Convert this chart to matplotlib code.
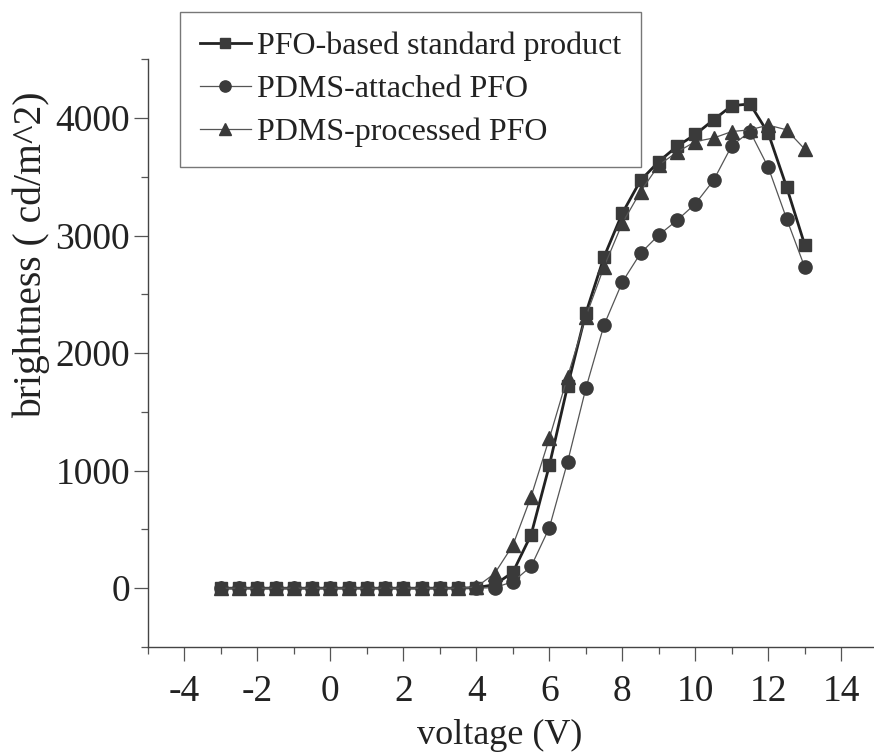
import matplotlib
matplotlib.use('Agg')
import matplotlib.pyplot as plt
import numpy as np

plt.rcParams['font.family'] = ['Liberation Serif', 'DejaVu Serif']
plt.rcParams['axes.unicode_minus'] = False

# voltage steps, -3 V to 13 V every 0.5 V
voltage = [-3, -2.5, -2, -1.5, -1, -0.5, 0, 0.5, 1, 1.5, 2, 2.5, 3, 3.5, 4, 4.5,
           5, 5.5, 6, 6.5, 7, 7.5, 8, 8.5, 9, 9.5, 10, 10.5, 11, 11.5, 12, 12.5, 13]

standard = [0, 0, 0, 0, 0, 0, 0, 0, 0, 0, 0, 0, 0, 0, 5, 30,
            135, 455, 1045, 1720, 2340, 2820, 3190, 3470, 3630, 3760, 3860, 3985, 4105, 4120, 3870, 3415, 2920]
attached = [0, 0, 0, 0, 0, 0, 0, 0, 0, 0, 0, 0, 0, 0, 0, 5,
            55, 185, 515, 1075, 1700, 2240, 2605, 2850, 3005, 3130, 3270, 3470, 3765, 3885, 3580, 3145, 2730]
processed = [0, 0, 0, 0, 0, 0, 0, 0, 0, 0, 0, 0, 0, 0, 10, 125,
             365, 780, 1275, 1800, 2310, 2735, 3105, 3375, 3600, 3710, 3800, 3830, 3885, 3900, 3940, 3900, 3735]

labels = ['PFO-based standard product', 'PDMS-attached PFO', 'PDMS-processed PFO']

fig = plt.figure(figsize=(8.74, 7.56), dpi=100)
ax = fig.add_axes([0.1693, 0.1442, 0.835, 0.7774])

mc = '#3a3a3a'
ax.plot(voltage, standard, color='#222222', lw=2.0, marker='s', ms=9,
        mfc=mc, mec=mc, label=labels[0])
ax.plot(voltage, attached, color='#555555', lw=0.9, marker='o', ms=9.5,
        mfc=mc, mec=mc, label=labels[1])
ax.plot(voltage, processed, color='#555555', lw=0.9, marker='^', ms=9.5,
        mfc=mc, mec=mc, label=labels[2])

ax.set_xlim(-5, 15)
ax.set_ylim(-500, 4500)
ax.set_xticks(np.arange(-4, 15, 2))
ax.set_xticks(np.arange(-5, 15, 1), minor=True)
ax.set_yticks([0, 1000, 2000, 3000, 4000])
ax.set_yticks(np.arange(-500, 4501, 500), minor=True)

for s in ['top', 'right']:
    ax.spines[s].set_visible(False)
for s in ['left', 'bottom']:
    ax.spines[s].set_color('#444444')
    ax.spines[s].set_linewidth(1.0)

ax.tick_params(axis='both', which='major', direction='out', length=10,
               width=0.9, color='#555555', labelsize=27, labelcolor='#222222')
ax.tick_params(axis='both', which='minor', direction='out', length=5,
               width=0.9, color='#555555')
ax.tick_params(axis='x', which='major', pad=10)
ax.tick_params(axis='y', which='major', pad=3)

ax.set_xlabel('voltage (V)', fontsize=26, color='#222222')
ax.set_ylabel('brightness ( cd/m^2)', fontsize=28.5, color='#222222')
ax.xaxis.set_label_coords(0.482, -0.122)
ax.yaxis.set_label_coords(-0.134, 0.668)

leg = ax.legend(loc='upper left', bbox_to_anchor=(180 / 874, 1 - 12 / 756),
                bbox_transform=fig.transFigure, fontsize=23, frameon=True,
                fancybox=False, borderaxespad=0, handlelength=1.6,
                handletextpad=0.2, labelspacing=0.42, borderpad=0.62,
                markerscale=0.85)
leg.get_frame().set_edgecolor('#555555')
leg.get_frame().set_linewidth(1.0)
for t in leg.get_texts():
    t.set_color('#222222')

fig.savefig('out.png', dpi=100)
